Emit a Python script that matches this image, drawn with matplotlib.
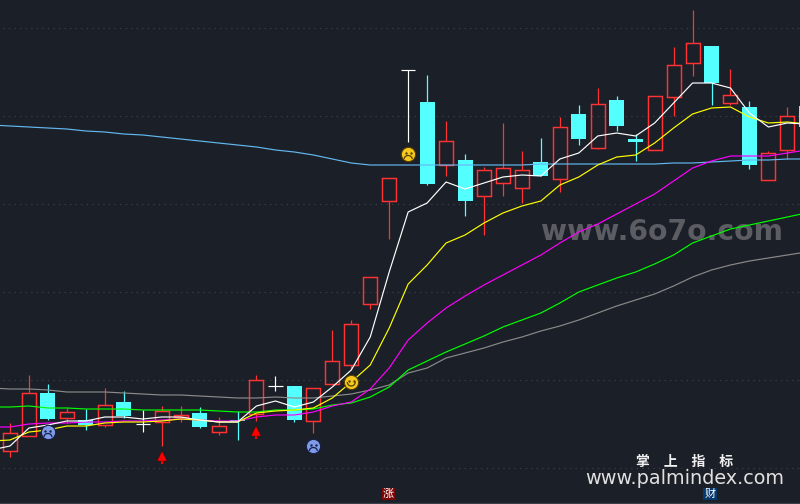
import numpy as np
import matplotlib
matplotlib.use('Agg')
import matplotlib.pyplot as plt
from matplotlib.patches import Arc, Rectangle

plt.rcParams['font.family'] = ['Noto Sans CJK SC', 'DejaVu Sans']

BG = '#1b1f27'
RED = '#ff3333'
CYAN = '#54ffff'

# values are chart rows, the y axis is inverted
opens = [451, 436, 393, 418, 420, 425, 402, 424, 422, 417, 413, 432, 420, 414, 386, 386, 421, 384, 365, 304,
         201, 70, 102, 165, 160, 196, 183, 188, 162, 179, 114, 148, 100, 139, 150, 97, 63, 46, 103, 107, 180, 150, 106]
closes = [433, 393, 419, 412, 425, 405, 416, 424, 411, 415, 427, 426, 421, 380, 386, 420, 388, 361, 324, 277,
          178, 70, 184, 141, 201, 170, 168, 170, 176, 127, 139, 104, 126, 142, 96, 65, 43, 83, 95, 165, 153, 116, 127]
highs = [423, 375, 384, 408, 409, 388, 391, 410, 406, 406, 407, 417, 411, 375, 376, 386, 388, 330, 320, 277,
         178, 70, 75, 121, 154, 167, 123, 151, 138, 117, 105, 88, 96, 134, 96, 47, 10, 46, 69, 101, 151, 107, 106]
lows = [457, 436, 420, 423, 430, 427, 418, 432, 446, 422, 428, 435, 440, 421, 391, 422, 433, 384, 370, 309,
        239, 142, 185, 176, 216, 235, 196, 203, 176, 192, 145, 149, 131, 161, 150, 116, 76, 105, 105, 169, 180, 159, 127]

# moving averages start one bar left of the first candle
ma_white = [450, 446, 428, 425, 421, 421, 417, 417, 419, 417, 417, 420, 422, 422, 406, 401, 407, 402, 387, 370, 337,
            272, 212, 203, 182, 189, 183, 177, 175, 176, 159, 153, 136, 133, 136, 123, 103, 83, 83, 88, 113, 127, 123, 124]
ma_yellow = [441, 440, 432, 430, 426, 426, 423, 422, 422, 421, 419, 420, 422, 422, 413, 411, 410, 408, 398, 382, 365,
             328, 284, 265, 243, 235, 223, 213, 206, 201, 185, 177, 165, 157, 155, 143, 128, 114, 108, 107, 117, 123, 122, 124]
ma_magenta = [427, 427, 424, 423, 423, 422, 422, 421, 421, 420, 419, 420, 421, 421, 417, 415, 415, 412, 406, 402, 389,
              368, 340, 323, 308, 296, 285, 275, 265, 255, 243, 232, 224, 214, 204, 194, 181, 168, 161, 156, 156, 156, 153, 150]
ma_green = [407, 407, 406, 408, 408, 409, 409, 409, 410, 410, 410, 410, 411, 412, 412, 410, 410, 409, 405, 403, 397,
            387, 370, 361, 352, 344, 336, 327, 320, 313, 303, 292, 285, 278, 272, 264, 255, 243, 236, 229, 225, 221, 217, 213]
ma_gray = [388, 389, 389, 390, 392, 392, 392, 393, 394, 395, 395, 396, 397, 398, 398, 397, 398, 398, 396, 394, 390,
           385, 373, 368, 358, 353, 348, 342, 337, 331, 326, 320, 313, 306, 300, 294, 286, 277, 270, 265, 261, 258, 255, 252]
ma_blue = [125, 126, 127, 128, 129, 131, 132, 134, 135, 137, 139, 141, 143, 145, 147, 150, 152, 155, 159, 163, 165,
           165, 165, 165, 165, 165, 165, 165, 165, 164, 164, 164, 164, 164, 164, 164, 163, 163, 162, 161, 160, 160, 159, 159]

grid_rows = [28, 116, 204, 292, 380, 468]
up_arrows = [(8, 458), (13, 433)]
sad_blue = [(2, 432), (16, 446)]
happy_yellow = [(18, 382)]
sad_yellow = [(21, 154)]

BAR_STEP = 18.96
BAR_0 = 10.0


def draw_candles(ax):
    for i in range(len(opens)):
        o, c, h, l = opens[i], closes[i], highs[i], lows[i]
        top, bottom = min(o, c), max(o, c)
        if o == c:
            ax.vlines(i, h, l, color='white', lw=0.85, zorder=3)
            ax.hlines(o, i - 0.38, i + 0.38, color='white', lw=0.85, zorder=3)
        elif c < o:
            ax.vlines(i, h, top, color=RED, lw=0.9, zorder=3)
            ax.vlines(i, bottom, l, color=RED, lw=0.9, zorder=3)
            ax.add_patch(Rectangle((i - 0.37, top), 0.74, bottom - top, fill=False, ec=RED, lw=1.05,
                                   zorder=3, snap=True))
        else:
            ax.vlines(i, h, l, color=CYAN, lw=0.9, zorder=3)
            ax.bar(i, bottom - top, bottom=top, width=0.79, color=CYAN, zorder=3)


def draw_face(ax, x, y, face, edge, happy):
    ax.scatter([x], [y], s=105, color=face, edgecolors=edge, linewidths=0.8, zorder=6)
    ax.scatter([x - 0.13, x + 0.13], [y - 1.5, y - 1.5], s=3, color=edge, lw=0, zorder=7)
    if happy:
        arc = Arc((x, y), 0.42, 8, theta1=10, theta2=170, color=edge, lw=0.9, zorder=7)
    else:
        arc = Arc((x, y + 5), 0.42, 7, theta1=190, theta2=350, color=edge, lw=0.9, zorder=7)
    ax.add_patch(arc)


fig = plt.figure(figsize=(8, 5.04), dpi=100, facecolor=BG)
ax = fig.add_axes([0, 0, 1, 1], facecolor=BG)
ax.set_xlim(-BAR_0 / BAR_STEP, (800 - BAR_0) / BAR_STEP)
ax.set_ylim(504, 0)
ax.axis('off')

for row in grid_rows:
    ax.hlines(row, 0.15 - BAR_0 / BAR_STEP, 42, color='#41454c', lw=0.8, linestyles=(0, (1, 4)), zorder=1)
ax.hlines(502.5, -1, 43, color='#39404a', lw=1.0, zorder=1)

ax.text((662 - BAR_0) / BAR_STEP, 232, 'www.6o7o.com', color='#5b5d63', fontsize=20.3, fontweight='bold',
        family='DejaVu Sans', ha='center', va='center', zorder=2)

draw_candles(ax)

xs = np.arange(-1, len(ma_white) - 1)
for vals, col in [(ma_blue, '#63b8f0'), (ma_gray, '#8a8a8a'), (ma_green, '#00ff00'),
                  (ma_magenta, '#ff00ff'), (ma_yellow, '#ffff00'), (ma_white, '#ffffff')]:
    ax.plot(xs, vals, color=col, lw=0.85, zorder=4)

for x, y in up_arrows:
    ax.vlines(x, y - 1, y + 6, color='#ff0000', lw=1.5, zorder=6)
    ax.plot([x], [y - 2], marker='^', ms=7.5, color='#ff0000', mec='#500000', mew=0.3, zorder=6)

for x, y in sad_blue:
    draw_face(ax, x, y, '#7f9be8', '#16204a', False)
for x, y in happy_yellow:
    draw_face(ax, x, y, '#f4c81e', '#5a4000', True)
for x, y in sad_yellow:
    draw_face(ax, x, y, '#f4c81e', '#5a4000', False)

ax.text((685 - BAR_0) / BAR_STEP, 462, '掌\u3000上\u3000指\u3000标', color='#f0f0f0', fontsize=10, fontweight='bold',
        ha='center', va='center', zorder=8)
ax.text((685 - BAR_0) / BAR_STEP, 479, 'www.palmindex.com', color='#e0e0e0', fontsize=13.9,
        family='DejaVu Sans', ha='center', va='center', zorder=8)

ax.text((388.5 - BAR_0) / BAR_STEP, 494, '涨', color='white', fontsize=8, ha='center', va='center', zorder=8,
        bbox=dict(boxstyle='square,pad=0.12', fc='#7a0505', ec='none'))
ax.text((710 - BAR_0) / BAR_STEP, 494, '财', color='white', fontsize=8, ha='center', va='center', zorder=8,
        bbox=dict(boxstyle='square,pad=0.12', fc='#06386e', ec='none'))

fig.savefig('out.png', dpi=100, facecolor=BG)
